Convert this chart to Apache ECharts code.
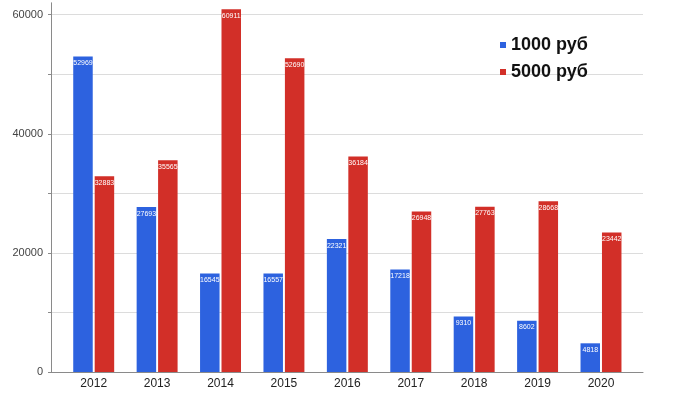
<!DOCTYPE html>
<html><head><meta charset="utf-8">
<script src="https://cdn.jsdelivr.net/npm/echarts@6/dist/echarts.min.js"></script>
<style>html,body{margin:0;padding:0;background:#fff}#c{width:700px;height:394px}</style>
</head><body><div id="c"></div>
<script>
const years = ['2012','2013','2014','2015','2016','2017','2018','2019','2020'];
const rub1000 = [52969, 27693, 16545, 16557, 22321, 17218, 9310, 8602, 4818];
const rub5000 = [32883, 35565, 60911, 52690, 36184, 26948, 27763, 28668, 23442];
const seriesNames = ['1000 руб', '5000 руб'];
const yTicks = [0, 20000, 40000, 60000];

const font = 'Arial, "Liberation Sans", sans-serif';
const chart = echarts.init(document.getElementById('c'));
const lbl = {show:true, position:'insideTop', distance:3, color:'#fff', fontSize:7, fontFamily:font};
chart.setOption({
  animation:false,
  grid:[
    {left:51, right:57, top:14.7, bottom:22},
    {left:62, right:67.3, top:2.8, bottom:22}
  ],
  legend:{
    orient:'vertical', left:500, top:36, padding:0, itemGap:9,
    itemWidth:6, itemHeight:6, icon:'rect',
    textStyle:{fontSize:18, fontWeight:'bold', color:'#111', fontFamily:font},
    data:seriesNames
  },
  xAxis:[
    {gridIndex:0, type:'value', min:0, max:1, axisLabel:{show:false}, axisTick:{show:false}, splitLine:{show:false},
     axisLine:{show:true, lineStyle:{color:'#8a8a8a', width:1}}},
    {gridIndex:1, type:'category', data:years, axisLine:{show:false}, axisTick:{show:false},
     axisLabel:{fontSize:12, color:'#222', margin:6, fontFamily:font}}
  ],
  yAxis:[
    {gridIndex:0, type:'value', min:0, max:60000, interval:10000,
     axisLine:{show:false},
     axisTick:{show:true, length:3, lineStyle:{color:'#8a8a8a'}},
     axisLabel:{fontSize:11, color:'#444', margin:8, fontFamily:font,
       formatter:v => yTicks.includes(v) ? String(v) : ''},
     splitLine:{show:true, lineStyle:{color:'#dcdcdc', width:1}}},
    {gridIndex:1, type:'value', min:0, max:62000, offset:11,
     axisLine:{show:true, lineStyle:{color:'#8a8a8a', width:1}},
     axisTick:{show:false}, axisLabel:{show:false}, splitLine:{show:false}}
  ],
  series:[
    {name:seriesNames[0], type:'bar', xAxisIndex:1, yAxisIndex:1, data:rub1000,
     barWidth:19.5, barGap:'10%', itemStyle:{color:'#2d62df'}, label:lbl},
    {name:seriesNames[1], type:'bar', xAxisIndex:1, yAxisIndex:1, data:rub5000,
     barWidth:19.5, barGap:'10%', itemStyle:{color:'#d22f28'}, label:lbl}
  ]
});
</script></body></html>
